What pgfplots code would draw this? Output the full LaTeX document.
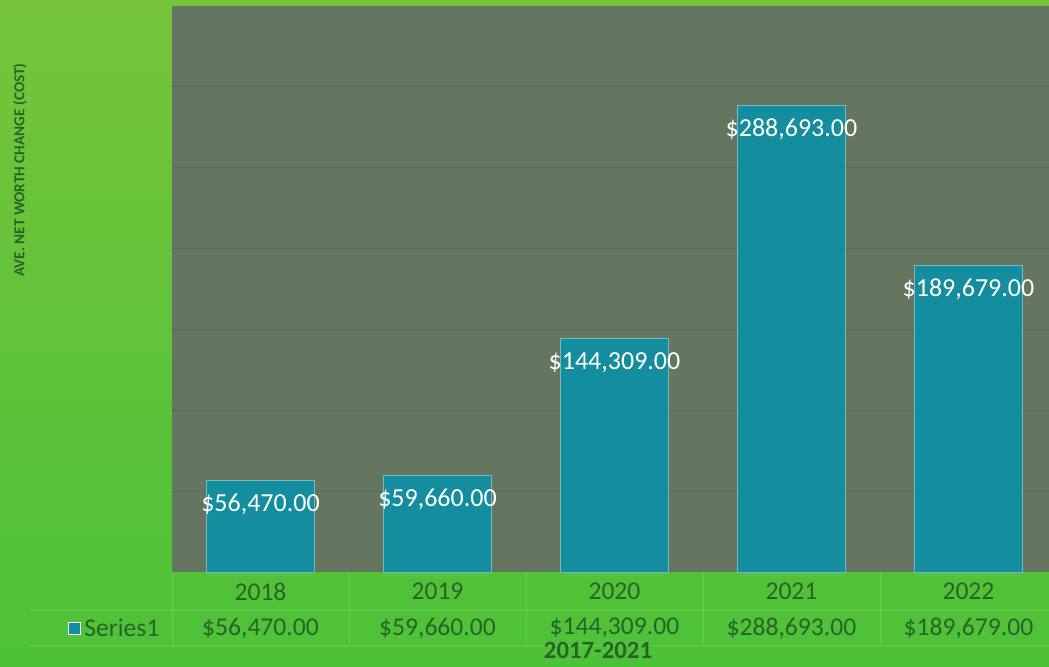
\documentclass[border=0pt]{standalone}
\usepackage{pgfplots}
\pgfplotsset{compat=1.18}
\usepackage{fontspec}
\setmainfont{Carlito}
\definecolor{bgtop}{RGB}{118,196,58}
\definecolor{bgbot}{RGB}{76,194,56}
\definecolor{plotbg}{RGB}{100,118,96}
\definecolor{teal1}{RGB}{20,141,158}
\definecolor{txtgreen}{RGB}{40,100,40}
\definecolor{gridc}{RGB}{80,94,76}
\definecolor{tableline}{RGB}{140,220,110}
\begin{document}
\begin{tikzpicture}
\shade[top color=bgtop, bottom color=bgbot] (0,0) rectangle (524.5pt,333pt);
\useasboundingbox (0,0) rectangle (524.5pt,333pt);
% table lines
\draw[tableline, opacity=0.45, line width=0.5pt] (15pt,28pt) -- (524.5pt,28pt);
\draw[tableline, opacity=0.45, line width=0.5pt] (15pt,10.5pt) -- (524.5pt,10.5pt);
\foreach \k in {0,1,2,3,4}{
  \draw[tableline, opacity=0.45, line width=0.5pt] ({86pt+88.5pt*\k},47pt) -- ({86pt+88.5pt*\k},10.5pt);
}
\begin{axis}[
  at={(86pt,47pt)}, anchor=south west,
  scale only axis, width=438.5pt, height=283pt,
  xmin=-0.5, xmax=4.455, ymin=0, ymax=350000,
  axis background/.style={fill=plotbg},
  axis line style={draw=none},
  ybar, bar width=54pt,
  xtick={0,1,2,3,4}, xticklabels={2018,2019,2020,2021,2022},
  xticklabel style={font=\fontsize{12.8}{15}\selectfont, text=txtgreen, yshift=-2pt},
  major tick length=0pt,
  ytick={50000,100000,...,300000}, yticklabels={},
  ymajorgrids, grid style={gridc, opacity=0.45, line width=0.6pt},
  clip=false,
  /pgf/number format/assume math mode=true,
  nodes near coords={\$\pgfmathprintnumber[fixed, fixed zerofill, precision=2, 1000 sep={,}]{\pgfplotspointmeta}},
  every node near coord/.append style={anchor=center, yshift=-12pt, text=white, font=\fontsize{13}{15}\selectfont},
]
\addplot[fill=teal1, draw=teal1!60!white, line width=0.5pt] coordinates {
  (0,56470) (1,59660) (2,144309) (3,288693) (4,189679)
};
\node[text=txtgreen, font=\fontsize{12.8}{15}\selectfont] at (axis cs:0,0) [yshift=-28pt] {\$56,470.00};
\node[text=txtgreen, font=\fontsize{12.8}{15}\selectfont] at (axis cs:1,0) [yshift=-28pt] {\$59,660.00};
\node[text=txtgreen, font=\fontsize{12.8}{15}\selectfont] at (axis cs:2,0) [yshift=-28pt] {\$144,309.00};
\node[text=txtgreen, font=\fontsize{12.8}{15}\selectfont] at (axis cs:3,0) [yshift=-28pt] {\$288,693.00};
\node[text=txtgreen, font=\fontsize{12.8}{15}\selectfont] at (axis cs:4,0) [yshift=-28pt] {\$189,679.00};
\end{axis}
\node[rotate=90, text=txtgreen, font=\bfseries\fontsize{7.6}{9}\selectfont] at (10pt,248pt) {AVE. NET WORTH CHANGE (COST)};
\node[text=txtgreen, font=\bfseries\fontsize{12.4}{14}\selectfont] at (299pt,8pt) {2017-2021};
\fill[teal1, draw=white, line width=0.3pt] (34pt,16pt) rectangle (40pt,22pt);
\node[anchor=west, inner sep=0pt, text=txtgreen, font=\fontsize{12.8}{15}\selectfont] at (42pt,19pt) {Series1};
\end{tikzpicture}
\end{document}
